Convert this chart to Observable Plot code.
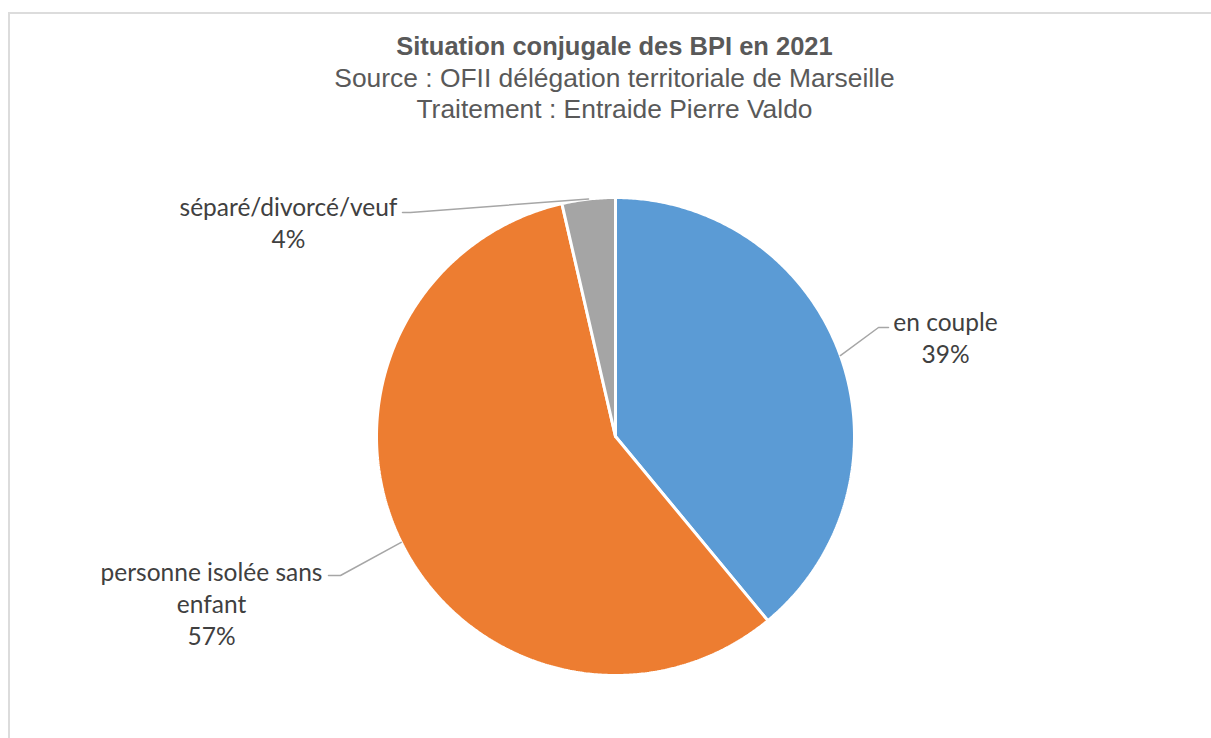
<!DOCTYPE html>
<html>
<head>
<meta charset="utf-8">
<script src="https://cdn.jsdelivr.net/npm/d3@7"></script>
<script src="https://cdn.jsdelivr.net/npm/@observablehq/plot@0.6"></script>
<style>
  html, body { margin: 0; padding: 0; background: #fff; overflow: hidden; width: 1211px; height: 738px; }
  #frame { position: absolute; left: 8px; top: 12px; width: 1300px; height: 800px; border: 2px solid #dcdcdc; box-sizing: border-box; }
  #wrap { position: absolute; left: 0; top: 0; width: 1211px; }
  #titles { height: 95px; padding-top: 31px; padding-left: 18px; font-family: "Liberation Sans", Arial, sans-serif; color: #595959; font-size: 26.4px; line-height: 31.5px; text-align: center; }
  #titles .t1 { font-weight: bold; font-size: 25.5px; }
  #chart svg { display: block; overflow: visible; }
</style>
</head>
<body>
<div id="frame"></div>
<div id="wrap">
  <div id="titles">
    <div class="t1">Situation conjugale des BPI en 2021</div>
    <div>Source : OFII délégation territoriale de Marseille</div>
    <div>Traitement : Entraide Pierre Valdo</div>
  </div>
  <div id="chart"></div>
</div>
<script>
// ---- data ----
const categories = ["en couple", "personne isolée sans enfant", "séparé/divorcé/veuf"];
const labelLines = ["en couple", "personne isolée sans\nenfant", "séparé/divorcé/veuf"];
const values = [39.0, 57.4, 3.6];
const colors = ["#5B9BD5", "#ED7D31", "#A5A5A5"];

// ---- layout ----
const W = 1211, H = 612;
const CX = 615, CY = 310, R = 239;
const labelLayout = [
  {x: 945, y: 210.5, elbowX: 878, elbowY: 201, endX: 888},
  {x: 211, y: 476,   elbowX: 340, elbowY: 449, endX: 328},
  {x: 288, y: 95,    elbowX: 410, elbowY: 86,  endX: 402}
];

const arcs = d3.pie().sort(null).value(d => d)(values);
const pt = (a, r) => [CX + r * Math.sin(a), CY - r * Math.cos(a)];

const slices = arcs.map((a, i) => {
  const n = Math.max(8, Math.ceil((a.endAngle - a.startAngle) * 120));
  const pts = [[CX, CY]];
  for (let k = 0; k <= n; k++) {
    const t = a.startAngle + (a.endAngle - a.startAngle) * k / n;
    pts.push(pt(t, R));
  }
  pts.push([CX, CY]);
  return {key: categories[i], color: colors[i], pts};
});

const leaders = arcs.map((a, i) => {
  const mid = (a.startAngle + a.endAngle) / 2;
  const L = labelLayout[i];
  return [
    {k: i, x: pt(mid, R)[0], y: pt(mid, R)[1]},
    {k: i, x: L.elbowX, y: L.elbowY},
    {k: i, x: L.endX, y: L.elbowY}
  ];
}).flat();

const labels = values.map((v, i) => ({
  text: labelLines[i] + "\n" + Math.round(v) + "%",
  x: labelLayout[i].x,
  y: labelLayout[i].y
}));

const marks = [];
slices.forEach(s => {
  marks.push(Plot.line(s.pts, {x: d => d[0], y: d => d[1], fill: s.color, stroke: "#ffffff", strokeWidth: 3, strokeLinejoin: "miter", curve: "linear"}));
});
marks.push(Plot.line(leaders, {x: "x", y: "y", z: "k", stroke: "#a6a6a6", strokeWidth: 1.5}));
marks.push(Plot.text(labels, {x: "x", y: "y", text: "text", fill: "#404040", fontSize: 24.5, fontFamily: "Lato, 'Open Sans', sans-serif", lineHeight: 1.3, textAnchor: "middle", lineAnchor: "middle"}));

const chart = Plot.plot({
  width: W,
  height: H,
  margin: 0,
  x: {type: "identity", axis: null},
  y: {type: "identity", axis: null},
  style: {background: "transparent", overflow: "visible"},
  marks
});
document.getElementById("chart").appendChild(chart);
</script>
</body>
</html>
